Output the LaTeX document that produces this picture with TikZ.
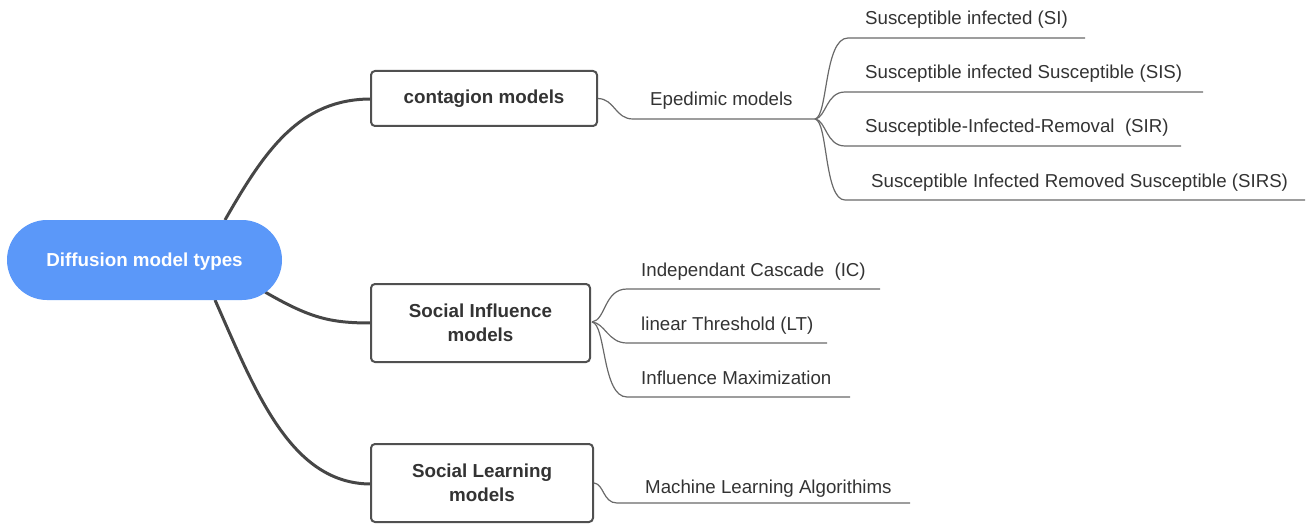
\documentclass[tikz,border=0pt]{standalone}
\usepackage{fontspec}
\setmainfont{Liberation Sans}
\definecolor{rootblue}{RGB}{91,152,249}
\definecolor{txt}{RGB}{51,51,51}
\definecolor{edgec}{RGB}{70,70,70}
\definecolor{boxc}{RGB}{80,80,80}
\definecolor{leafline}{RGB}{105,105,105}
\tikzset{
  rootnode/.style={fill=rootblue, rounded corners=40pt, minimum width=275pt, minimum height=80pt, text=white, font=\fontsize{18.8}{22}\selectfont\bfseries, inner sep=0pt},
  rootlabel/.style={text=white, font=\fontsize{18.8}{22}\selectfont\bfseries, inner sep=0pt},
  boxnode/.style={draw=boxc, line width=2pt, rounded corners=4pt, fill=white, font=\fontsize{18.8}{24}\selectfont\bfseries, text=txt, align=center, inner sep=0pt},
  leaf/.style={anchor=base west, font=\fontsize{18.7}{22}\selectfont, text=txt, inner sep=0pt},
  mainedge/.style={draw=edgec, line width=3pt},
  branch/.style={draw=leafline, line width=1.2pt},
}
\begin{document}
\begin{tikzpicture}[x=1pt,y=-1pt]
\useasboundingbox (0,0) rectangle (1309,524);

% main connectors (drawn first, behind the nodes)
\coordinate (r1) at (225,220);
\coordinate (r2) at (265,292);
\coordinate (r3) at (215,300);
\coordinate (cont-w) at (371,99);
\coordinate (infl-w) at (371,323);
\coordinate (learn-w) at (371,484);
\draw[mainedge] (r1) .. controls (265,150) and (300,99) .. (cont-w);
\draw[mainedge] (r2) .. controls (310,318) and (330,323) .. (infl-w);
\draw[mainedge] (r3) .. controls (255,390) and (290,484) .. (learn-w);

% root and boxes
\node[rootnode] (root) at (144.5,260) {};
\node[rootlabel] (rootlbl) at (144.5,261.5) {Diffusion model types};
\node[boxnode, minimum width=226pt, minimum height=55pt] (cont) at (484,98.5) {\raisebox{-2pt}{contagion models}};
\node[boxnode, minimum width=219pt, minimum height=78pt] (infl) at (480.5,323) {Social Influence\\models};
\node[boxnode, minimum width=222pt, minimum height=78pt] (learn) at (482,483) {Social Learning\\models};

% contagion branch
\coordinate (epi-s) at (633,119);
\coordinate (epi-j) at (815,119);
\node[leaf] (epi) at (650,106) {Epedimic models};
\draw[branch] (cont.east) .. controls (615,99) and (615,119) .. (epi-s) -- (epi-j);

\coordinate (si-s) at (848,38);   \coordinate (si-e) at (1085,38);
\coordinate (sis-s) at (845,92);  \coordinate (sis-e) at (1203,92);
\coordinate (sir-s) at (845,146); \coordinate (sir-e) at (1181,146);
\coordinate (sirs-s) at (845,200);\coordinate (sirs-e) at (1305,200);
\node[leaf] (si) at (865,25) {Susceptible infected (SI)};
\node[leaf] (sis) at (865,79) {Susceptible infected Susceptible (SIS)};
\node[leaf] (sir) at (865,132) {Susceptible-Infected-Removal\ \ (SIR)};
\node[leaf] (sirs) at (871,187) {Susceptible Infected Removed Susceptible (SIRS)};
\draw[branch] (epi-j) .. controls (828,117) and (824,38) .. (si-s) -- (si-e);
\draw[branch] (epi-j) .. controls (826,118) and (826,92) .. (sis-s) -- (sis-e);
\draw[branch] (epi-j) .. controls (826,120) and (826,146) .. (sir-s) -- (sir-e);
\draw[branch] (epi-j) .. controls (828,121) and (824,200) .. (sirs-s) -- (sirs-e);

% influence branch
\coordinate (infl-j) at (592,322);
\coordinate (ic-s) at (627,289);  \coordinate (ic-e) at (880,289);
\coordinate (lt-s) at (627,343);  \coordinate (lt-e) at (827,343);
\coordinate (im-s) at (627,397);  \coordinate (im-e) at (850,397);
\node[leaf] (ic) at (641,276) {Independant Cascade\ \ (IC)};
\node[leaf] (lt) at (641,330) {linear Threshold (LT)};
\node[leaf] (im) at (641,384) {Influence Maximization};
\draw[branch] (infl-j) .. controls (606,320) and (604,289) .. (ic-s) -- (ic-e);
\draw[branch] (infl-j) .. controls (605,323) and (608,343) .. (lt-s) -- (lt-e);
\draw[branch] (infl-j) .. controls (606,324) and (602,397) .. (im-s) -- (im-e);

% learning branch
\coordinate (ml-s) at (617,503); \coordinate (ml-e) at (910,503);
\node[leaf] (ml) at (645,493) {Machine Learning Algorithims};
\draw[branch] (learn.east) .. controls (604,484) and (603,503) .. (ml-s) -- (ml-e);
\end{tikzpicture}
\end{document}
